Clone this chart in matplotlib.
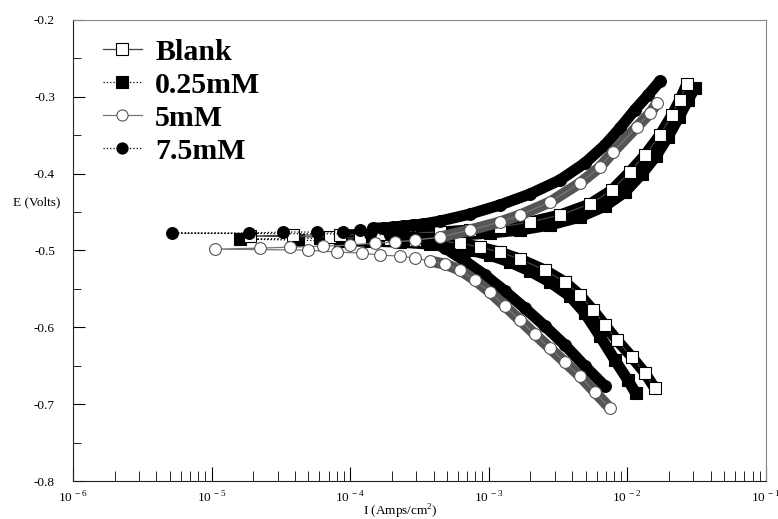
"""Tafel polarisation curves, four inhibitor concentrations."""

import numpy as np
import matplotlib.pyplot as plt
from matplotlib.lines import Line2D
from matplotlib.ticker import FixedLocator, FuncFormatter, LogLocator, MultipleLocator, NullFormatter

plt.rcParams['font.family'] = ['Liberation Serif', 'DejaVu Serif']
plt.rcParams['mathtext.fontset'] = 'custom'
plt.rcParams['mathtext.rm'] = 'Liberation Serif'

# --- data: E in volts, I in A/cm2 (cathodic end -> Ecorr -> anodic end)

blank_e = [-0.6792, -0.6596, -0.6388, -0.6167, -0.5971, -0.5776, -0.5581, -0.5411, -0.5255,
           -0.5112, -0.5021, -0.4956, -0.4904, -0.4878, -0.4865, -0.4852, -0.4839, -0.4826,
           -0.4812, -0.4799, -0.4799, -0.4786, -0.4773, -0.4760, -0.4734, -0.4695, -0.4630,
           -0.4539, -0.4396, -0.4214, -0.3979, -0.3758, -0.3497, -0.3237, -0.3042, -0.2833]
blank_i = [1.58e-2, 1.34e-2, 1.08e-2, 8.41e-3, 6.89e-3, 5.65e-3, 4.55e-3, 3.55e-3, 2.54e-3,
           1.68e-3, 1.20e-3, 8.64e-4, 6.20e-4, 4.45e-4, 2.93e-4, 1.94e-4, 1.18e-4, 7.15e-5,
           1.89e-5, 3.87e-5, 8.44e-5, 1.64e-4, 2.70e-4, 4.45e-4, 7.32e-4, 1.20e-3, 1.98e-3,
           3.26e-3, 5.37e-3, 7.74e-3, 1.04e-2, 1.34e-2, 1.72e-2, 2.10e-2, 2.39e-2, 2.69e-2]

q25_e = [-0.6857, -0.6688, -0.6427, -0.6115, -0.5815, -0.5594, -0.5411, -0.5268, -0.5151,
         -0.5060, -0.4995, -0.4943, -0.4917, -0.4891, -0.4878, -0.4878, -0.4865, -0.4852,
         -0.4839, -0.4839, -0.4826, -0.4812, -0.4799, -0.4773, -0.4734, -0.4669, -0.4565,
         -0.4422, -0.4240, -0.4005, -0.3771, -0.3523, -0.3263, -0.3042, -0.2885]
q25_i = [1.15e-2, 1.01e-2, 8.14e-3, 6.34e-3, 4.94e-3, 3.85e-3, 2.76e-3, 1.98e-3, 1.42e-3,
         1.02e-3, 7.32e-4, 5.25e-4, 3.77e-4, 2.29e-4, 1.39e-4, 8.44e-5, 4.20e-5, 1.60e-5,
         6.05e-5, 1.18e-4, 2.29e-4, 3.77e-4, 6.20e-4, 1.02e-3, 1.68e-3, 2.76e-3, 4.55e-3,
         6.89e-3, 9.61e-3, 1.27e-2, 1.61e-2, 1.96e-2, 2.36e-2, 2.74e-2, 3.07e-2]

mm5_e = [-0.7052, -0.6844, -0.6635, -0.6453, -0.6271, -0.6089, -0.5906, -0.5724, -0.5542,
         -0.5385, -0.5255, -0.5177, -0.5138, -0.5099, -0.5073, -0.5060, -0.5034, -0.5021,
         -0.4995, -0.4982, -0.4969, -0.4956, -0.4943, -0.4930, -0.4904, -0.4891, -0.4865,
         -0.4826, -0.4734, -0.4630, -0.4539, -0.4370, -0.4122, -0.3914, -0.3719, -0.3393,
         -0.3211, -0.3081]
mm5_i = [7.49e-3, 5.84e-3, 4.55e-3, 3.55e-3, 2.76e-3, 2.15e-3, 1.68e-3, 1.31e-3, 1.02e-3,
         7.95e-4, 6.20e-4, 4.83e-4, 3.77e-4, 2.93e-4, 2.29e-4, 1.64e-4, 1.22e-4, 8.03e-5,
         4.96e-5, 1.06e-5, 2.23e-5, 3.68e-5, 6.36e-5, 9.97e-5, 1.51e-4, 2.10e-4, 2.93e-4,
         4.45e-4, 7.32e-4, 1.20e-3, 1.68e-3, 2.76e-3, 4.55e-3, 6.34e-3, 7.87e-3, 1.17e-2,
         1.46e-2, 1.64e-2]

mm75_e = [-0.6766, -0.6505, -0.6232, -0.5984, -0.5750, -0.5529, -0.5320, -0.5138, -0.4969,
          -0.4852, -0.4812, -0.4799, -0.4786, -0.4773, -0.4773, -0.4760, -0.4760, -0.4760,
          -0.4734, -0.4708, -0.4708, -0.4695, -0.4682, -0.4669, -0.4656, -0.4617, -0.4526,
          -0.4409, -0.4266, -0.4083, -0.3862, -0.3628, -0.3406, -0.3172, -0.2977, -0.2794]
mm75_i = [6.89e-3, 4.94e-3, 3.55e-3, 2.54e-3, 1.82e-3, 1.31e-3, 9.39e-4, 6.74e-4, 4.83e-4,
          3.47e-4, 2.48e-4, 1.94e-4, 1.39e-4, 5.18e-6, 1.86e-5, 3.27e-5, 5.76e-5, 8.87e-5,
          1.18e-4, 1.46e-4, 1.73e-4, 2.04e-4, 2.40e-4, 2.84e-4, 3.35e-4, 4.45e-4, 7.32e-4,
          1.20e-3, 1.98e-3, 3.26e-3, 4.94e-3, 6.89e-3, 8.85e-3, 1.13e-2, 1.41e-2, 1.72e-2]

labels = ['Blank', '0.25mM', '5mM', '7.5mM']

# --- plot

fig = plt.figure(figsize=(7.78, 5.19), dpi=100)
ax = fig.add_axes([0.0938, 0.0732, 0.8907, 0.8883])

styles = {
    'Blank':  dict(marker='s', mfc='white', mec='black', color='#444444', ls='-', band='black', cut=6e-5),
    '0.25mM': dict(marker='s', mfc='black', mec='black', color='black', ls=':', band='black', cut=8e-5),
    '5mM':    dict(marker='o', mfc='white', mec='#555555', color='#777777', ls='-', band='#555555', cut=3.5e-4),
    '7.5mM':  dict(marker='o', mfc='black', mec='black', color='black', ls=':', band='black', cut=1.4e-4),
}
data = {'Blank': (blank_i, blank_e), '0.25mM': (q25_i, q25_e),
        '5mM': (mm5_i, mm5_e), '7.5mM': (mm75_i, mm75_e)}

# draw order: 0.25mM under Blank, 7.5mM under 5mM
for z, name in enumerate(['0.25mM', 'Blank', '7.5mM', '5mM']):
    st = styles[name]
    i = np.asarray(data[name][0])
    e = np.asarray(data[name][1])
    k = np.argmin(i)
    # dense part of each branch shows up as a solid band of overlapping markers
    for seg in (slice(0, k), slice(k + 1, None)):
        ii, ee = i[seg], e[seg]
        m = ii >= st['cut']
        ax.plot(ii[m], ee[m], color=st['band'], lw=8, solid_capstyle='round', zorder=2 + 2 * z)
    ax.plot(i, e, color=st['color'], ls=st['ls'], lw=0.9, marker=st['marker'], ms=8.5,
            mfc=st['mfc'], mec=st['mec'], mew=0.8, zorder=3 + 2 * z)

# --- axes

ax.set_xscale('log')
ax.set_xlim(1e-6, 1e-1)
ax.set_ylim(-0.8, -0.2)

ax.xaxis.set_major_locator(FixedLocator([1e-6, 1e-5, 1e-4, 1e-3, 1e-2, 1e-1]))
ax.xaxis.set_major_formatter(FuncFormatter(lambda v, p: r'$10^{\,%d}$' % round(np.log10(v))))
ax.xaxis.set_minor_locator(LogLocator(base=10, subs=np.arange(2, 10)))
ax.xaxis.set_minor_formatter(NullFormatter())

ax.yaxis.set_major_locator(MultipleLocator(0.1))
ax.yaxis.set_minor_locator(MultipleLocator(0.05))
ax.yaxis.set_major_formatter(FuncFormatter(lambda v, p: '%.1f' % v))

ax.tick_params(which='both', direction='in', top=False, right=False, labelsize=9.5, colors='black')
ax.tick_params(axis='y', which='major', length=8.5, pad=13)
ax.tick_params(axis='y', which='minor', length=6)
ax.tick_params(axis='x', which='major', length=10, pad=7)
ax.tick_params(axis='x', which='minor', length=7)

for s in ['left', 'bottom']:
    ax.spines[s].set_color('#222222')
for s in ['right', 'top']:
    ax.spines[s].set_color('#888888')

fig.text(37 / 778, 1 - 202 / 519, 'E (Volts)', ha='center', va='center', fontsize=9.5)
fig.text(400 / 778, 1 - 512 / 519, 'I (Amps/cm$^2$)', ha='center', va='center', fontsize=9.5)

# legend
handles = []
for name in labels:
    st = styles[name]
    handles.append(Line2D([], [], color=st['color'], ls=st['ls'], lw=0.9, marker=st['marker'],
                          ms=8, mfc=st['mfc'], mec=st['mec'], mew=0.8))
ax.legend(handles, labels, loc='upper left', bbox_to_anchor=(0.043, 0.959), frameon=False,
          prop={'weight': 'bold', 'size': 21.5}, handlelength=1.3, handletextpad=0.45,
          labelspacing=0.2, borderpad=0, borderaxespad=0)

fig.savefig('out.png', dpi=100)
